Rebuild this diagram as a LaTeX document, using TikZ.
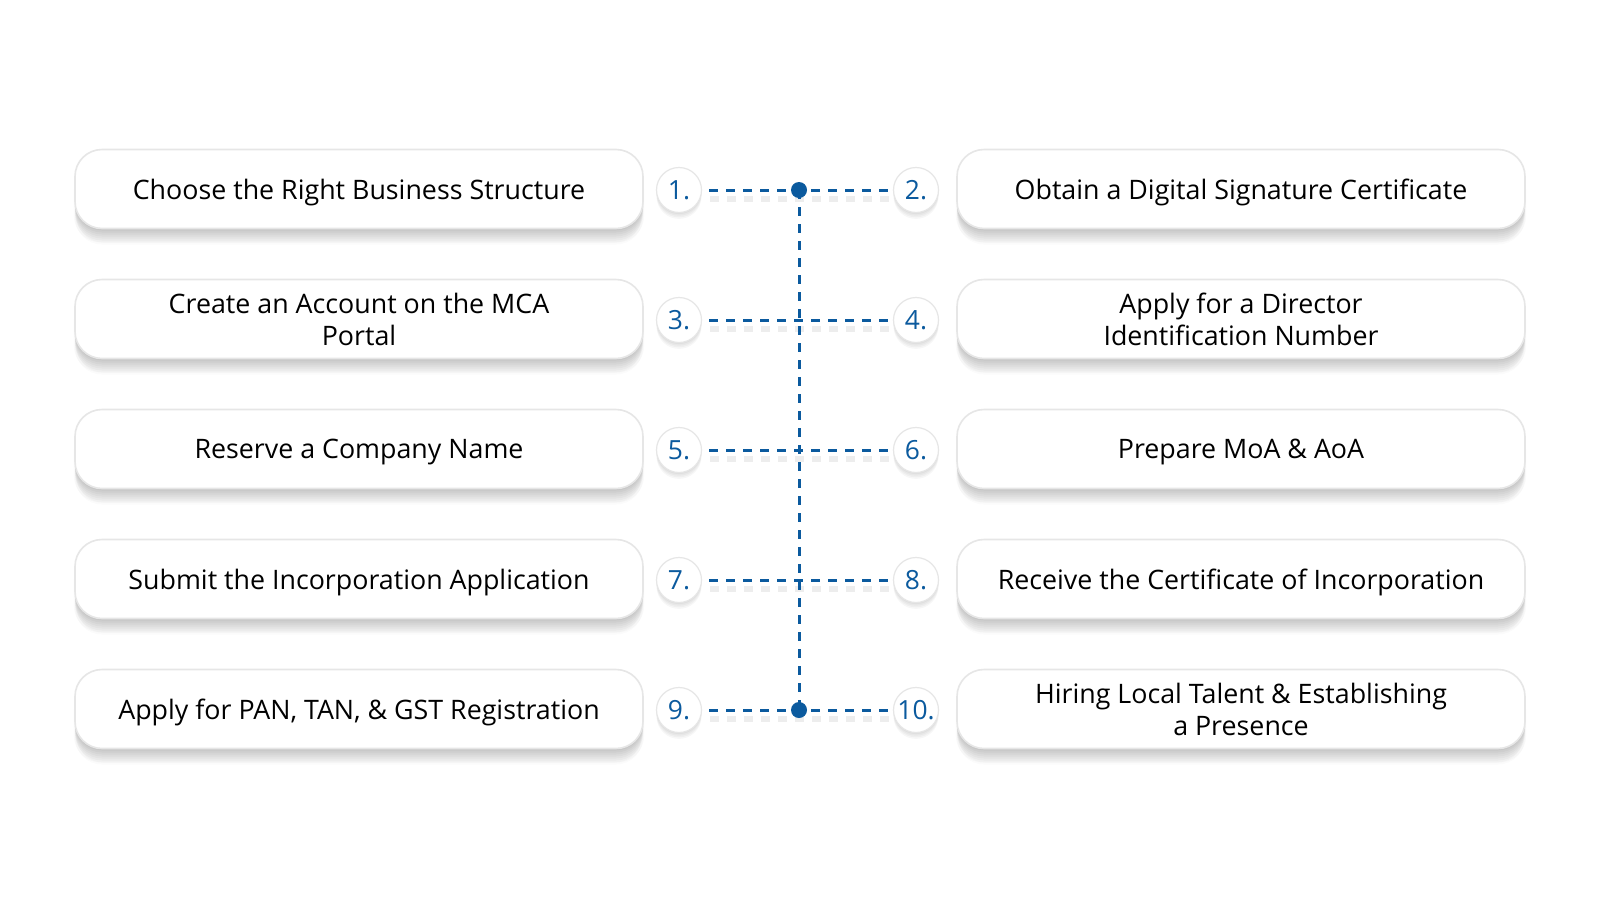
\documentclass[tikz,border=0pt]{standalone}
\usepackage{fontspec}
\setmainfont{Open Sans}
\usetikzlibrary{shadows}
\definecolor{lineblue}{HTML}{0B5A9E}
\definecolor{boxedge}{HTML}{E6E6E6}
\tikzset{
  softshadow/.style={
    general shadow={fill=black, opacity=0.026, shadow yshift=-1pt},
    general shadow={fill=black, opacity=0.026, shadow yshift=-2pt},
    general shadow={fill=black, opacity=0.026, shadow yshift=-3pt},
    general shadow={fill=black, opacity=0.026, shadow yshift=-4pt},
    general shadow={fill=black, opacity=0.026, shadow yshift=-5pt},
    general shadow={fill=black, opacity=0.026, shadow yshift=-6pt},
    general shadow={fill=black, opacity=0.02, shadow yshift=-7pt, shadow xshift=0.6pt},
    general shadow={fill=black, opacity=0.02, shadow yshift=-7pt, shadow xshift=-0.6pt},
    general shadow={fill=black, opacity=0.016, shadow yshift=-8pt}},
  smallshadow/.style={
    general shadow={fill=black, opacity=0.03, shadow yshift=-0.8pt},
    general shadow={fill=black, opacity=0.03, shadow yshift=-1.6pt},
    general shadow={fill=black, opacity=0.03, shadow yshift=-2.4pt},
    general shadow={fill=black, opacity=0.03, shadow yshift=-3.2pt}}
}
\begin{document}
\begin{tikzpicture}[x=0.5pt,y=-0.5pt,
  stepbox/.style={softshadow, draw=boxedge, line width=0.8pt, fill=white, rounded corners=13.5pt,
    minimum width=284pt, minimum height=39.5pt, inner sep=0pt, align=center, text depth=0pt,
    font=\fontsize{13.4}{16}\selectfont},
  numcirc/.style={smallshadow, circle, draw=boxedge, line width=0.6pt, fill=white, minimum size=22.5pt, inner sep=0pt,
    text=lineblue, font=\fontsize{13.2}{13}\selectfont},
  link/.style={draw=lineblue, line width=1.5pt, dash pattern=on 4.5pt off 4pt},
  hlink/.style={link, shorten <=3.5pt, shorten >=2pt},
  linkshadow/.style={draw=black, opacity=0.07, line width=3pt, dash pattern=on 4.5pt off 4pt},
  dot/.style={circle, fill=lineblue, minimum size=8pt, inner sep=0pt}]
\fill[white] (0,0) rectangle (1600,900);
\useasboundingbox (0,0) rectangle (1600,900);

% left boxes
\node[stepbox] (b1) at (359,189) {Choose the Right Business Structure};
\node[stepbox] (b3) at (359,319) {Create an Account on the MCA\\Portal};
\node[stepbox] (b5) at (359,449) {Reserve a Company Name};
\node[stepbox] (b7) at (359,579) {Submit the Incorporation Application};
\node[stepbox] (b9) at (359,709) {Apply for PAN, TAN, \& GST Registration};
% right boxes
\node[stepbox] (b2) at (1241,189) {Obtain a Digital Signature Certificate};
\node[stepbox] (b4) at (1241,319) {Apply for a Director\\Identification Number};
\node[stepbox] (b6) at (1241,449) {Prepare MoA \& AoA};
\node[stepbox] (b8) at (1241,579) {Receive the Certificate of Incorporation};
\node[stepbox] (b10) at (1241,709) {Hiring Local Talent \& Establishing\\a Presence};

% junction coordinates
\coordinate (j1) at (799,190);
\coordinate (j9) at (799,710);

% shadows of dashed lines
\foreach \y in {190,320,450,580,710}{
  \draw[linkshadow] (710,\y+9) -- (890,\y+9);
}

% number circles
\node[numcirc] (n1) at (679,190) {1.};
\node[numcirc] (n2) at (916,190) {2.};
\node[numcirc] (n3) at (679,320) {3.};
\node[numcirc] (n4) at (916,320) {4.};
\node[numcirc] (n5) at (679,450) {5.};
\node[numcirc] (n6) at (916,450) {6.};
\node[numcirc] (n7) at (679,580) {7.};
\node[numcirc] (n8) at (916,580) {8.};
\node[numcirc] (n9) at (679,710) {9.};
\node[numcirc] (n10) at (916,710) {10.};

% connectors
\draw[link] (j1) -- (j9);
\draw[hlink] (n1) -- (n2);
\draw[hlink] (n3) -- (n4);
\draw[hlink] (n5) -- (n6);
\draw[hlink] (n7) -- (n8);
\draw[hlink] (n9) -- (n10);

\node[dot] (d1) at (j1) {};
\node[dot] (d9) at (j9) {};
\end{tikzpicture}
\end{document}
